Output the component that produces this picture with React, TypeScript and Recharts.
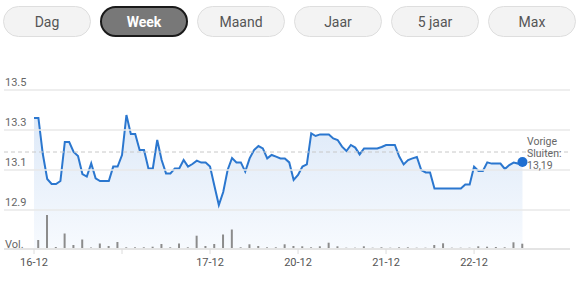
import React from "react";
import {
  ComposedChart,
  Area,
  Bar,
  XAxis,
  YAxis,
  ReferenceLine,
  ReferenceDot,
} from "recharts";

// koersverloop over de week, één punt per slot
const prices = [
  13.36, 13.36, 13.18, 13.055, 13.03, 13.03, 13.045, 13.24, 13.24, 13.19,
  13.17, 13.08, 13.067, 13.133, 13.058, 13.045, 13.045, 13.045, 13.117, 13.117,
  13.175, 13.375, 13.28, 13.28, 13.2, 13.2, 13.108, 13.108, 13.25, 13.15,
  13.083, 13.083, 13.108, 13.108, 13.15, 13.117, 13.13, 13.147, 13.137, 13.137,
  13.117, 13.02, 12.925, 12.99, 13.1, 13.16, 13.138, 13.138, 13.092, 13.158,
  13.2, 13.22, 13.208, 13.158, 13.175, 13.167, 13.158, 13.158, 13.138, 13.05,
  13.075, 13.117, 13.128, 13.283, 13.27, 13.278, 13.278, 13.278, 13.258, 13.25,
  13.217, 13.195, 13.225, 13.212, 13.178, 13.208, 13.208, 13.208, 13.208, 13.215,
  13.225, 13.225, 13.225, 13.167, 13.128, 13.15, 13.158, 13.165, 13.1, 13.088,
  13.088, 13.008, 13.008, 13.008, 13.008, 13.008, 13.008, 13.008, 13.028, 13.028,
  13.117, 13.095, 13.095, 13.138, 13.132, 13.132, 13.132, 13.105, 13.125, 13.137,
  13.132, 13.14,
];

// volume (x1000), één balk per twee slots
const volumes = [
  9, 34, 2, 15.5, 4, 9.5, 1.5, 5.5, 3, 7,
  1.7, 1.7, 1.7, 2.3, 5, 1.7, 5.5, 1.7, 13.3, 3,
  5, 14.5, 19.5, 1.7, 4.7, 3, 1.7, 1.7, 4.7, 3,
  2.7, 1.7, 2.7, 6.3, 2.7, 1.3, 1.3, 2.7, 1.3, 1.7,
  1.3, 1.7, 1.7, 1.3, 1.3, 4, 5.7, 1.3, 1.3, 1.3,
  2.7, 2.3, 2, 1.7, 6.7, 5.3,
];

const dayTicks = [0, 20, 40, 60, 80, 100];
const dayLabels = ["16-12", "", "17-12", "20-12", "21-12", "22-12"];
const priceTicks = [12.9, 13.1, 13.3, 13.5];
const previousClose = 13.19;
const periods = ["Dag", "Week", "Maand", "Jaar", "5 jaar", "Max"];
const activePeriod = "Week";

const data = prices.map((price, i) => ({
  t: i,
  price,
  vol: i % 2 === 1 ? volumes[(i - 1) / 2] : undefined,
}));

const last = data[data.length - 1];

const FONT = "Roboto, Arial, sans-serif";
const LINE = "#2b77cf";

// prijslabel links boven de rasterlijn
const gridLabel = (value: number) => ({ viewBox }: any) => (
  <text x={5} y={viewBox.y - 4} fontSize={11} fill="#666" fontFamily={FONT}>
    {value.toFixed(1)}
  </text>
);

const CloseLabel = ({ viewBox }: any) => {
  const x = viewBox.x + viewBox.width - 43;
  const y = viewBox.y;
  const lines = ["Vorige", "Sluiten:", previousClose.toFixed(2).replace(".", ",")];
  return (
    <g>
      {lines.map((s, i) => (
        <text
          key={s}
          x={x}
          y={y - 7 + i * 12}
          fontSize={10.5}
          fill="#666"
          fontFamily={FONT}
        >
          {s}
        </text>
      ))}
    </g>
  );
};

function PeriodButtons() {
  return (
    <>
      {periods.map((p, i) => {
        const active = p === activePeriod;
        return (
          <div
            key={p}
            style={{
              position: "absolute",
              left: 3 + i * 97,
              top: 6,
              width: 88,
              height: 31,
              boxSizing: "border-box",
              borderRadius: 16,
              border: active ? "2px solid #1a1a1a" : "1px solid #dedede",
              background: active ? "#787878" : "#f3f3f3",
              color: active ? "#fff" : "#555",
              fontWeight: active ? 700 : 400,
              fontSize: 14,
              display: "flex",
              alignItems: "center",
              justifyContent: "center",
            }}
          >
            {p}
          </div>
        );
      })}
    </>
  );
}

export default function App() {
  return (
    <div
      style={{
        position: "absolute",
        left: 0,
        top: 0,
        width: 583,
        height: 282,
        background: "#fff",
        fontFamily: FONT,
      }}
    >
      <PeriodButtons />
      <div style={{ position: "absolute", left: 0, top: 0 }}>
        <ComposedChart
          width={583}
          height={282}
          data={data}
          margin={{ top: 50, right: 13, bottom: 3, left: 4 }}
        >
          <defs>
            <linearGradient id="priceFill" x1="0" y1="0" x2="0" y2="1">
              <stop offset="0%" stopColor="#dde9f8" />
              <stop offset="100%" stopColor="#f7fafe" />
            </linearGradient>
          </defs>
          <XAxis
            dataKey="t"
            type="number"
            domain={[-6.82, 121.8]}
            ticks={dayTicks}
            tickFormatter={(v: number) => dayLabels[dayTicks.indexOf(v)] ?? ""}
            height={30}
            axisLine={{ stroke: "#e4e4e4", strokeWidth: 2 }}
            tickLine={{ stroke: "#dcdcdc" }}
            tickSize={5}
            tickMargin={4}
            tick={{ fontSize: 11, fill: "#555", fontFamily: FONT }}
          />
          <YAxis yAxisId="p" type="number" domain={[12.705, 13.7]} hide />
          <YAxis yAxisId="v" type="number" domain={[0, 199]} hide />
          {priceTicks.map((v) => (
            <ReferenceLine
              key={v}
              yAxisId="p"
              y={v}
              stroke="#e8e8e8"
              strokeWidth={1.5}
              label={gridLabel(v)}
            />
          ))}
          <Area
            yAxisId="p"
            dataKey="price"
            type="linear"
            stroke={LINE}
            strokeWidth={2}
            fill="url(#priceFill)"
            fillOpacity={1}
            dot={false}
            activeDot={false}
            isAnimationActive={false}
          />
          <Bar
            yAxisId="v"
            dataKey="vol"
            barSize={2}
            fill="#8c8c8c"
            isAnimationActive={false}
          />
          <ReferenceLine
            yAxisId="p"
            y={previousClose}
            stroke="#c8c8c8"
            strokeDasharray="4 3"
            label={<CloseLabel />}
          />
          <ReferenceDot
            yAxisId="p"
            x={last.t}
            y={last.price}
            r={5}
            fill="#1f6fd1"
            stroke="none"
          />
        </ComposedChart>
      </div>
      <div
        style={{
          position: "absolute",
          left: 5,
          top: 238,
          fontSize: 11,
          color: "#666",
        }}
      >
        Vol.
      </div>
    </div>
  );
}
